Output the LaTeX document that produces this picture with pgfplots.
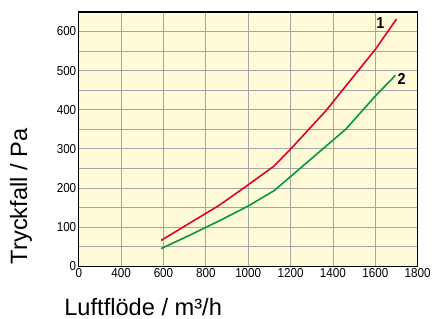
\documentclass[border=0pt]{standalone}
\usepackage{fontspec}
\setmainfont{Liberation Sans}
\newfontfamily\narrowfont[FakeStretch=0.9]{Liberation Sans}
\usepackage{pgfplots}
\pgfplotsset{compat=1.18}
\definecolor{bgyellow}{RGB}{255,251,214}
\definecolor{curvered}{RGB}{226,0,40}
\definecolor{curvegreen}{RGB}{0,152,64}
\definecolor{gridgray}{RGB}{165,165,165}
\begin{document}
\begin{tikzpicture}
\begin{axis}[
  scale only axis,
  width=340pt, height=255pt,
  xmin=0, xmax=8, ymin=0, ymax=650,
  axis background/.style={fill=bgyellow},
  axis line style={black, line width=1.3pt},
  xtick={0,1,2,3,4,5,6,7,8},
  xticklabels={0,400,600,800,1000,1200,1400,1600,1800},
  ytick={0,100,200,300,400,500,600},
  minor ytick={50,150,250,350,450,550,650},
  grid=both,
  major grid style={gridgray, line width=0.9pt},
  minor grid style={gridgray, line width=0.9pt},
  tick style={draw=none},
  /pgf/number format/assume math mode=true,
  ticklabel style={font=\narrowfont\fontsize{13}{13}\selectfont},
  xticklabel style={yshift=1pt},
  yticklabel style={xshift=1pt},
  xlabel={Luftflöde / m³/h},
  ylabel={Tryckfall / Pa},
  xlabel style={at={(axis description cs:0.19,-0.16)}, anchor=center, font=\fontsize{23.7}{23.7}\selectfont},
  ylabel style={at={(axis description cs:-0.17,0.275)}, anchor=center, rotate=0, font=\fontsize{23.7}{23.7}\selectfont},
  clip=false,
]
\addplot[curvered, line width=1.6pt, x filter/.expression={(x-200)/200}] coordinates {
  (589,66) (864,156) (1000,208) (1122,256) (1208,304) (1366,397) (1601,555) (1700,632)
};
\addplot[curvegreen, line width=1.6pt, x filter/.expression={(x-200)/200}] coordinates {
  (589,45) (700,73) (871,118) (1000,154) (1122,193) (1460,350) (1600,435) (1695,488)
};
\node[font=\narrowfont\bfseries\fontsize{16}{16}\selectfont] at (axis cs:7.12,621) {1};
\node[font=\narrowfont\bfseries\fontsize{16}{16}\selectfont] at (axis cs:7.62,478) {2};
\end{axis}
\path (current axis.south west) ++(-79pt,-51pt) rectangle ++(434pt,318pt);
\end{tikzpicture}
\end{document}
